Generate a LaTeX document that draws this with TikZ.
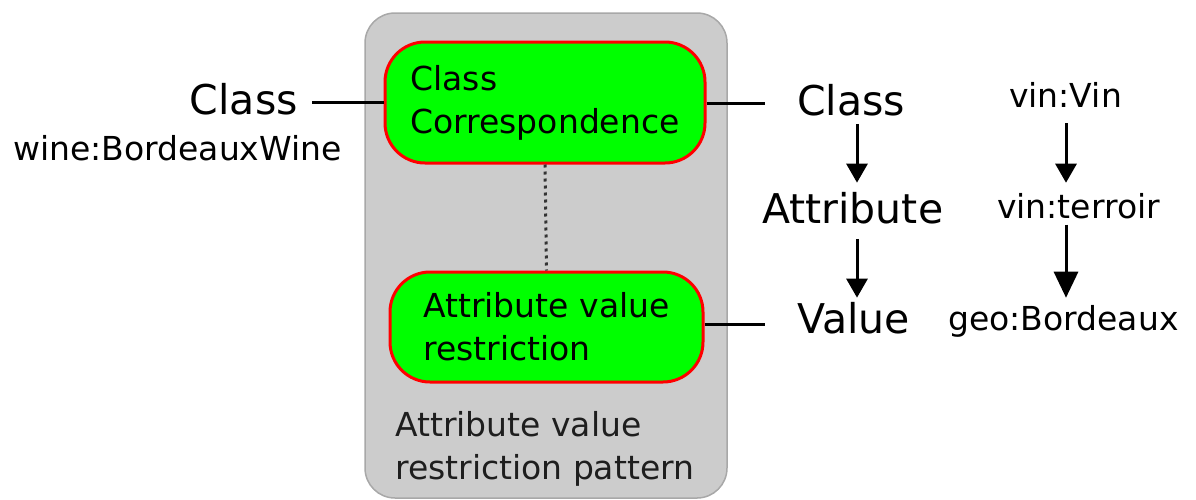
\documentclass[tikz,border=0pt]{standalone}
\usepackage{fontspec}
\setmainfont{DejaVu Sans}
\usetikzlibrary{arrows.meta}
\definecolor{patterngray}{HTML}{CCCCCC}
\definecolor{patternedge}{HTML}{A8A8A8}
\definecolor{boxgreen}{HTML}{00FF00}
\definecolor{boxred}{HTML}{FF0000}
\definecolor{labelink}{HTML}{1E1E1E}
\newcommand{\bigtext}{\fontsize{41}{50}\selectfont}
\newcommand{\smalltext}{\fontsize{33}{43}\selectfont}
\begin{document}
\begin{tikzpicture}[x=1pt,y=-1pt,
  patternbox/.style={draw=patternedge,fill=patterngray,line width=1.5pt,rounded corners=30pt},
  roundbox/.style={draw=boxred,fill=boxgreen,line width=3pt,rounded corners=40pt,
    align=left,inner sep=0pt,font=\smalltext},
  term/.style={inner sep=0pt,font=\bigtext},
  example/.style={inner sep=0pt,font=\smalltext},
  link/.style={line width=3pt},
  downarrow/.style={line width=3pt,-{Triangle[length=19pt,width=21pt]}},
  bigdownarrow/.style={line width=3pt,-{Triangle[length=26pt,width=24pt]}}]
\useasboundingbox (0,0) rectangle (1196,499);

% pattern container
\path[patternbox] (365,13) rectangle (727,498);
\node[example,anchor=north west,align=left,text=labelink] (patlabel) at (395,411)
  {Attribute value\\restriction pattern};

% pattern members
\node[roundbox,minimum width=320pt,minimum height=121pt] (cc) at (545,102.5)
  {Class\\Correspondence};
\node[roundbox,minimum width=313pt,minimum height=110pt] (avr) at (546.5,327)
  {Attribute value\\restriction};
\draw[line width=3pt,dash pattern=on 3pt off 4pt,draw=black!80] (cc.south) -- (avr.north);

% left side
\node[term,anchor=base east] (clsL) at (298,114) {Class};
\node[example,anchor=base west] (wineL) at (13,160) {wine:BordeauxWine};
\coordinate (leftend) at (312,102);
\draw[link] (leftend) -- (cc.west |- leftend);

% generic chain
\node[term,anchor=base west] (clsR) at (797,115) {Class};
\node[term,anchor=base west] (attr) at (762,223) {Attribute};
\node[term,anchor=base west] (val) at (797,333) {Value};
\coordinate (ccend) at (765,103);
\coordinate (avrend) at (765,324);
\draw[link] (cc.east |- ccend) -- (ccend);
\draw[link] (avr.east |- avrend) -- (avrend);
\coordinate (colA) at (857,0);
\draw[downarrow] ([yshift=-8pt]colA |- clsR.south) -- ([yshift=9pt]colA |- attr.north);
\draw[downarrow] ([yshift=-15pt]colA |- attr.south) -- ([yshift=4pt]colA |- val.north);

% example chain
\node[example,anchor=base west] (vin) at (1009,107) {vin:Vin};
\node[example,anchor=base west] (terroir) at (997,218) {vin:terroir};
\node[example,anchor=base west] (geo) at (948,330) {geo:Bordeaux};
\coordinate (colB) at (1066,0);
\draw[downarrow] ([yshift=-16pt]colB |- vin.south) -- ([yshift=10pt]colB |- terroir.north);
\draw[bigdownarrow] ([yshift=-6pt]colB |- terroir.south) -- ([yshift=7pt]colB |- geo.north);
\end{tikzpicture}
\end{document}
